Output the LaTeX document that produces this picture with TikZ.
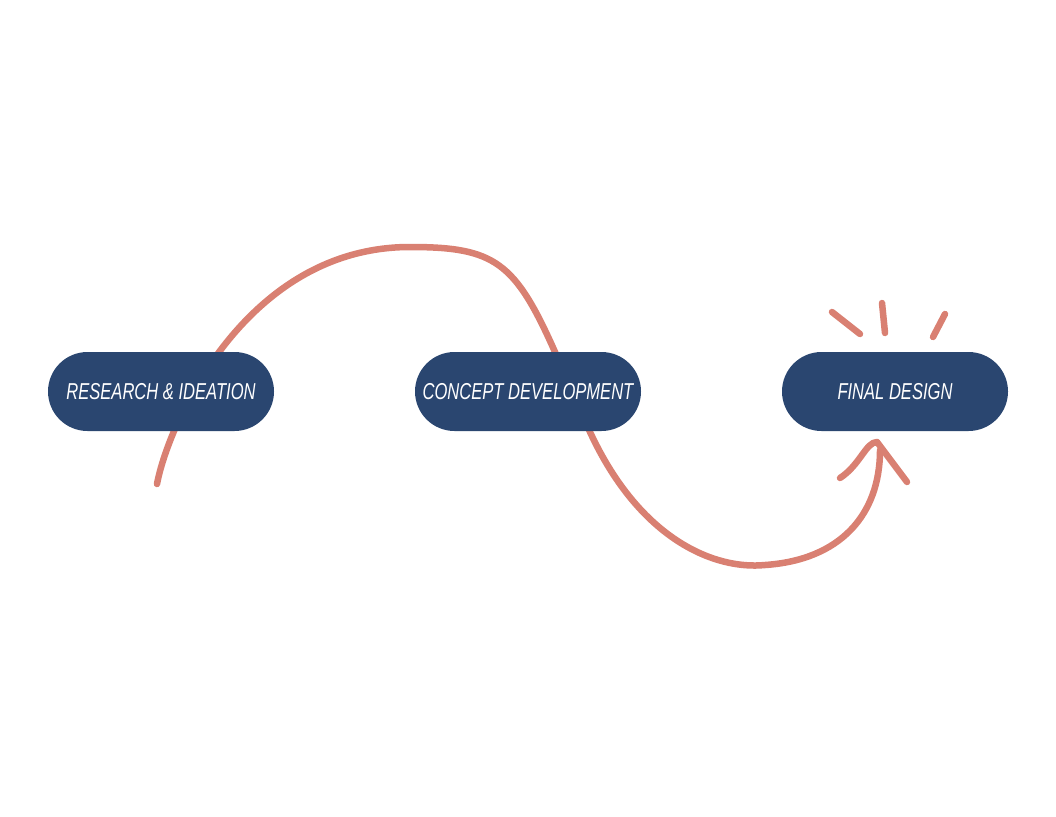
\documentclass[tikz,border=0pt]{standalone}
\usepackage{fontspec}
\newfontfamily\lab[FakeStretch=0.72]{Liberation Sans}
\definecolor{pill}{RGB}{42,70,112}
\definecolor{salmon}{RGB}{217,128,114}
\begin{document}
\begin{tikzpicture}[x=1pt,y=-1pt,
  stage/.style={draw=none,fill=pill,rounded corners=39.5pt,minimum width=226pt,minimum height=79pt,
    text=white,font=\lab\itshape\fontsize{23}{25}\selectfont,inner sep=0pt},
  stroke/.style={draw=salmon,line width=6.5pt,line cap=round,line join=round}]
\useasboundingbox (0,0) rectangle (1056,816);
\coordinate (s) at (157,484);
\coordinate (top) at (410,247);
\coordinate (mid) at (590,432);
\coordinate (low) at (765,565);
\coordinate (tip) at (880,450);
\coordinate (hl) at (840,478);
\coordinate (hp) at (877,442);
\coordinate (hr) at (907,482);
\draw[stroke] (s) .. controls (168,425) and (245,247) .. (top)
  .. controls (495,247) and (515,262) .. (555,352)
  -- (mid) .. controls (640,540) and (715,570) .. (low)
  .. controls (840,560) and (880,515) .. (tip);
\draw[stroke] (hl) .. controls (860,465) and (866,442) .. (hp) -- (hr);
\coordinate (b1a) at (832,312); \coordinate (b1b) at (860,334);
\coordinate (b2a) at (882,303); \coordinate (b2b) at (885,333);
\coordinate (b3a) at (945,314); \coordinate (b3b) at (933,337);
\draw[stroke] (b1a) -- (b1b);
\draw[stroke] (b2a) -- (b2b);
\draw[stroke] (b3a) -- (b3b);
\node[stage] (n1) at (161,391.5) {RESEARCH \& IDEATION};
\node[stage] (n2) at (528,391.5) {CONCEPT DEVELOPMENT};
\node[stage] (n3) at (895,391.5) {FINAL DESIGN};
\end{tikzpicture}
\end{document}
